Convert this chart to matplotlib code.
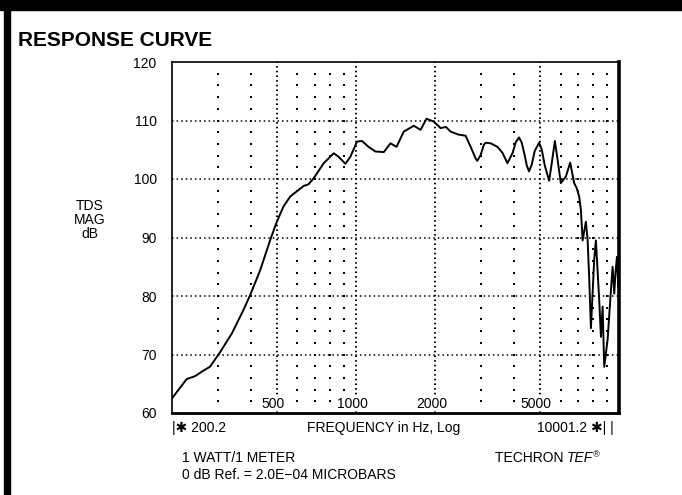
import matplotlib
matplotlib.use("Agg")
import matplotlib.pyplot as plt
from matplotlib.patches import Rectangle
import numpy as np

plt.rcParams['font.family'] = ['Liberation Sans', 'DejaVu Sans']

# response curve (Hz, dB)
freq_hz = [200.2, 214.7, 227.6, 245, 262.7, 279, 303, 338, 374, 397, 433, 473,
           501, 531, 563, 633, 661, 691, 755, 824, 860, 913, 953, 1011, 1056,
           1117, 1187, 1277, 1354, 1428, 1521, 1661, 1762, 1856, 1980, 2100,
           2200, 2292, 2450, 2613, 2731, 2853, 2895, 2981, 3069, 3115, 3254,
           3452, 3606, 3768, 3946, 4052, 4171, 4271, 4385, 4463, 4552, 4663,
           4785, 4971, 5089, 5225, 5427, 5556, 5707, 5856, 6012, 6281, 6525,
           6755, 6900, 7059, 7166, 7273, 7485, 7598, 7704, 7822, 7930, 8050,
           8170, 8300, 8411, 8540, 8665, 8788, 9050, 9319, 9456, 9594, 9700,
           9824, 9936, 10001]
mag_db = [62.5, 64.3, 65.8, 66.3, 67.2, 67.9, 70.2, 73.6, 77.6, 80.2, 84.4, 89.6,
          92.7, 95.3, 97.0, 98.8, 99.1, 100.1, 102.7, 104.4, 103.8, 102.6, 103.8,
          106.4, 106.5, 105.5, 104.7, 104.6, 106.1, 105.5, 108.1, 109.1, 108.4,
          110.3, 109.8, 108.7, 108.9, 108.1, 107.6, 107.4, 105.5, 103.5, 103.1,
          104.1, 105.9, 106.2, 106.1, 105.5, 104.5, 102.7, 104.5, 106.3, 107.1,
          106.2, 104.0, 102.3, 101.3, 102.5, 104.8, 106.2, 105.0, 102.3, 99.7,
          102.8, 106.5, 103.0, 99.3, 100.4, 102.8, 99.3, 98.5, 97.0, 94.7, 89.5,
          92.7, 89.6, 83.2, 74.5, 80.0, 86.2, 89.5, 84.0, 79.3, 73.0, 78.2, 67.9,
          72.5, 81.0, 85.0, 80.4, 84.0, 86.7, 81.6, 85.0]

y_ticks = [60, 70, 80, 90, 100, 110, 120]
major_freqs = [500, 1000, 2000, 5000]
major_labels = ['500', '1000', '2000', '5000']
minor_freqs = [300, 400, 600, 700, 800, 900, 3000, 4000, 6000, 7000, 8000, 9000]
f_start, f_stop = 200.2, 10001.2

W, H = 682, 495
fig = plt.figure(figsize=(W / 100, H / 100), dpi=100)

# black frame of the printed page
fig.patches.append(Rectangle((0, 1 - 10 / H), 1, 10 / H, transform=fig.transFigure,
                             color='black', zorder=0))
fig.patches.append(Rectangle((4 / W, 0), 6 / W, 1, transform=fig.transFigure,
                             color='black', zorder=0))

ax = fig.add_axes([172 / W, 1 - 413 / H, 447 / W, 351 / H])
ax.set_xscale('log')
ax.set_xlim(f_start, f_stop)
ax.set_ylim(60, 120)

for y in y_ticks[1:-1]:
    ax.axhline(y, color='black', lw=1.1, ls=(0, (1.0, 2.0)), zorder=1)
for f in major_freqs:
    ax.axvline(f, color='black', lw=1.4, ls=(0, (0.8, 1.6)), zorder=1)
gx, gy = np.meshgrid(minor_freqs, np.arange(62, 120, 2))
ax.scatter(gx.ravel(), gy.ravel(), s=2.0, marker='s', color='black', lw=0, zorder=1)

ax.plot(freq_hz, mag_db, color='black', lw=1.4, zorder=3)

for f, lab in zip(major_freqs, major_labels):
    ax.text(f * 0.97, 61.6, lab, ha='center', va='center', fontsize=10,
            bbox=dict(facecolor='white', edgecolor='none', pad=0.5), zorder=2)

ax.set_yticks(y_ticks)
ax.set_yticklabels([str(v) for v in y_ticks], fontsize=10)
ax.set_xticks([])
ax.minorticks_off()
ax.tick_params(axis='y', length=0, pad=11)
ax.spines['left'].set_linewidth(1.2)
ax.spines['top'].set_linewidth(1.2)
ax.spines['bottom'].set_linewidth(2.0)
ax.spines['right'].set_linewidth(2.6)

fig.text(18 / W, 1 - 41 / H, 'RESPONSE CURVE', fontsize=15, fontweight='bold',
         va='center', ha='left')
fig.text(90 / W, 1 - 220 / H, 'TDS\nMAG\ndB', fontsize=10, ha='center', va='center',
         linespacing=1.0)
fig.text(172 / W, 1 - 428 / H, '|✱ 200.2', fontsize=10, ha='left', va='center')
fig.text(384 / W, 1 - 428 / H, 'FREQUENCY in Hz, Log', fontsize=10, ha='center',
         va='center')
fig.text(614 / W, 1 - 428 / H, '10001.2 ✱| |', fontsize=10, ha='right', va='center')
fig.text(182 / W, 1 - 458 / H, '1 WATT/1 METER', fontsize=10, ha='left', va='center')
fig.text(182 / W, 1 - 475 / H, '0 dB Ref. = 2.0E\u221204 MICROBARS', fontsize=10,
         ha='left', va='center')
fig.text(495 / W, 1 - 458 / H, 'TECHRON ', fontsize=10, ha='left', va='center')
fig.text(567 / W, 1 - 458 / H, 'TEF', fontsize=10, ha='left', va='center',
         style='italic')
fig.text(593 / W, 1 - 455 / H, '®', fontsize=6.5, ha='left', va='center',
         style='italic')

fig.savefig('out.png', dpi=100)
